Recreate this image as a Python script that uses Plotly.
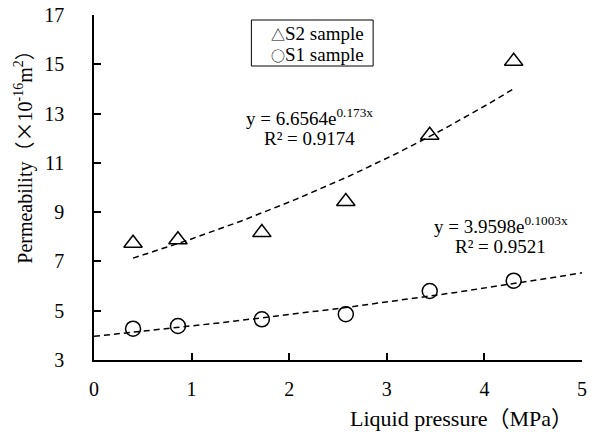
import numpy as np
import plotly.graph_objects as go

# Data
pressure = [0.40, 0.86, 1.72, 2.58, 3.44, 4.30]
s2_perm = [7.74, 7.88, 8.17, 9.43, 12.12, 15.12]
s1_perm = [4.27, 4.38, 4.65, 4.86, 5.80, 6.22]

# Exponential trendline coefficients shown on the chart
s2_a, s2_b = 6.6564, 0.173
s1_a, s1_b = 3.9598, 0.1003
s2_fit_range = [0.40, 4.30]
s1_fit_range = [0.0, 5.0]

x_ticks = [0, 1, 2, 3, 4, 5]
y_ticks = [3, 5, 7, 9, 11, 13, 15, 17]

FONT = "Liberation Serif, Times New Roman, serif"
CJK = "font-family:Noto Sans CJK SC"

fig = go.Figure()

x2 = np.linspace(s2_fit_range[0], s2_fit_range[1], 100)
x1 = np.linspace(s1_fit_range[0], s1_fit_range[1], 100)

fig.add_trace(go.Scatter(x=x2, y=s2_a * np.exp(s2_b * x2), mode="lines",
                         line=dict(color="black", width=1.5, dash="6px,4px"),
                         showlegend=False, hoverinfo="skip"))
fig.add_trace(go.Scatter(x=x1, y=s1_a * np.exp(s1_b * x1), mode="lines",
                         line=dict(color="black", width=1.5, dash="6px,4px"),
                         showlegend=False, hoverinfo="skip"))

fig.add_trace(go.Scatter(x=pressure, y=s2_perm, mode="markers", name="S2 sample",
                         marker=dict(symbol="triangle-up-open", size=16,
                                     color="black", line=dict(width=1.5, color="black")),
                         showlegend=False))
fig.add_trace(go.Scatter(x=pressure, y=s1_perm, mode="markers", name="S1 sample",
                         marker=dict(symbol="circle-open", size=15,
                                     color="black", line=dict(width=1.5, color="black")),
                         showlegend=False))

L, R, T, B = 94, 4, 15, 72
W, H = 591, 432
pw, ph = W - L - R, H - T - B


def px_x(p):
    return (p - L) / pw


def px_y(p):
    return (H - B - p) / ph


fig.update_layout(
    width=W, height=H,
    margin=dict(l=L, r=R, t=T, b=B, pad=0),
    paper_bgcolor="white", plot_bgcolor="white",
    font=dict(family=FONT, size=19, color="black"),
    xaxis=dict(range=[0, 5], tickvals=x_ticks, ticks="inside", ticklen=7,
               tickwidth=1.5, tickcolor="black", showline=True, linecolor="black",
               linewidth=1.5, showgrid=False, zeroline=False,
               ticklabelstandoff=10, ticklabeloverflow="allow",
               tickfont=dict(size=20, family=FONT)),
    yaxis=dict(range=[3, 17], tickvals=y_ticks, ticks="inside", ticklen=7,
               tickwidth=1.5, tickcolor="black", showline=True, linecolor="black",
               linewidth=1.5, showgrid=False, zeroline=False,
               ticklabelstandoff=24, tickfont=dict(size=20, family=FONT)),
    showlegend=False,
)

# Legend box
fig.add_shape(type="rect", xref="paper", yref="paper",
              x0=px_x(253), x1=px_x(376), y0=px_y(66), y1=px_y(20),
              line=dict(color="black", width=1), fillcolor="white")
fig.add_annotation(xref="paper", yref="paper", x=px_x(369), y=px_y(33),
                   xanchor="right", yanchor="middle", showarrow=False,
                   text=f"<span style='{CJK};font-size:14px'>△</span>S2 sample",
                   font=dict(size=19))
fig.add_annotation(xref="paper", yref="paper", x=px_x(369), y=px_y(54),
                   xanchor="right", yanchor="middle", showarrow=False,
                   text=f"<span style='{CJK};font-size:14px'>○</span>S1 sample",
                   font=dict(size=19))

# Trendline equations
eqs = [
    (312, 117, "y = 6.6564e<sup>0.173x</sup>"),
    (312, 138, "R² = 0.9174"),
    (505, 225, "y = 3.9598e<sup>0.1003x</sup>"),
    (505, 246, "R² = 0.9521"),
]
for cx, cy, t in eqs:
    fig.add_annotation(xref="paper", yref="paper", x=px_x(cx), y=px_y(cy),
                       xanchor="center", yanchor="middle", showarrow=False,
                       text=t, font=dict(size=19))

# Axis titles
fig.add_annotation(xref="paper", yref="paper", x=px_x(465), y=px_y(416),
                   xanchor="center", yanchor="middle", showarrow=False,
                   text=(f"Liquid pressure<span style='{CJK};font-size:22px'>（</span>MPa"
                         f"<span style='{CJK};font-size:22px'>）</span>"),
                   font=dict(size=22))
fig.add_annotation(xref="paper", yref="paper", x=px_x(22), y=px_y(152),
                   xanchor="center", yanchor="middle", showarrow=False,
                   textangle=-90,
                   text=(f"Permeability<span style='{CJK}'>（×</span>10<sup>-16</sup>"
                         f"m<sup>2</sup><span style='{CJK}'>）</span>"),
                   font=dict(size=20))

fig.write_html("out.html")
